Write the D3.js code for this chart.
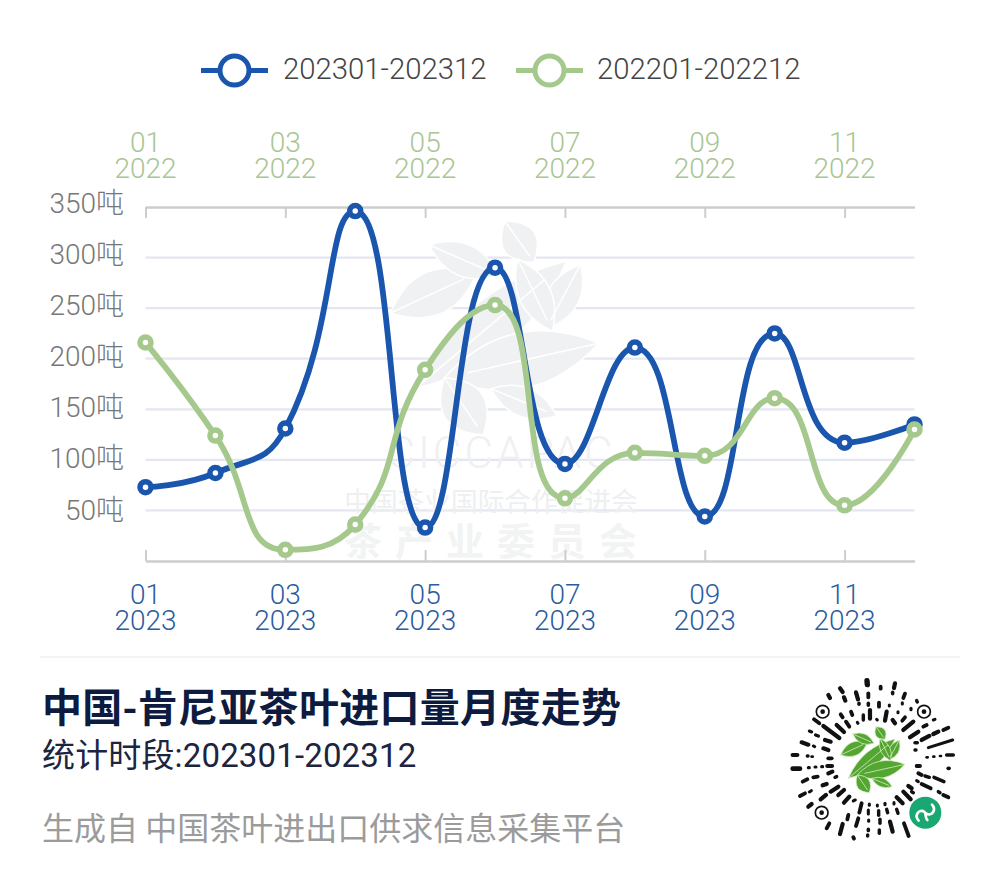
<!DOCTYPE html>
<html><head><meta charset="utf-8">
<script src="https://cdn.jsdelivr.net/npm/d3@7"></script>
<style>html,body{margin:0;padding:0;background:#fff}svg{display:block}</style>
</head><body><div id="c"></div>
<script>
const months2023 = ["01","02","03","04","05","06","07","08","09","10","11","12"];
const series2023 = [73,87,131,346,33,290,96,211,44,225,117,135];
const series2022 = [216,124,11,36,189,253,62,107,104,161,55,130];
const yTicks = [50,100,150,200,250,300,350];
const xTickMonths = ["01","03","05","07","09","11"];
const legendLabels = ["202301-202312","202201-202212"];
const titleText = "中国-肯尼亚茶叶进口量月度走势";
const subtitleText = "统计时段:202301-202312";
const footerText = "生成自 中国茶叶进出口供求信息采集平台";

const BLUE="#1a56ae", GREEN="#a5c88c";
const LATIN='Roboto,"Noto Sans CJK SC",sans-serif';
const CJK='"Noto Sans CJK SC",sans-serif';
const svg=d3.select("#c").append("svg").attr("width",1000).attr("height",882).attr("viewBox","0 0 1000 882");
svg.append("rect").attr("width",1000).attr("height",882).attr("fill","#fff");

const x=d3.scalePoint().domain(months2023).range([145.5,914.5]);
const y=d3.scaleLinear().domain([0,350]).range([561,207]);
const yLabel=d3.scaleLinear().domain([50,350]).range([519.5,212.8]);

// smooth curve with constrained control points (handles stay within the neighbouring points)
function smoothCurve(context){
  let pts=[];
  return {
    areaStart(){},areaEnd(){},
    lineStart(){pts=[];},
    point(a,b){pts.push([+a,+b]);},
    lineEnd(){
      const s=0.5,n=pts.length;
      const clamp=(v,a,b)=>Math.max(Math.min(a,b),Math.min(Math.max(a,b),v));
      context.moveTo(pts[0][0],pts[0][1]);
      let cp0=pts[0].slice();
      for(let i=1;i<n;i++){
        const [px,py]=pts[i-1],[cx,cy]=pts[i];
        let c1=[cx,cy],next=[cx,cy];
        if(i<n-1){
          const [nx,ny]=pts[i+1];
          const l0=Math.hypot(cx-px,cy-py),l1=Math.hypot(nx-cx,ny-cy);
          const r=l1/(l0+l1);
          let ncx=clamp(cx+(nx-px)*s*r,cx,nx),ncy=clamp(cy+(ny-py)*s*r,cy,ny);
          let c1x=clamp(cx-(ncx-cx)*l0/l1,px,cx),c1y=clamp(cy-(ncy-cy)*l0/l1,py,cy);
          ncx=cx+(cx-c1x)*l1/l0;ncy=cy+(cy-c1y)*l1/l0;
          c1=[c1x,c1y];next=[ncx,ncy];
        }
        context.bezierCurveTo(cp0[0],cp0[1],c1[0],c1[1],cx,cy);
        cp0=next;
      }
    }
  };
}

// grid
svg.append("g").selectAll("line").data(yTicks.filter(d=>d<350)).join("line")
 .attr("x1",x.range()[0]).attr("x2",x.range()[1]).attr("y1",d=>y(d)).attr("y2",d=>y(d))
 .attr("stroke","#e4e6f1").attr("stroke-width",2.2);

// logo leaves: base, tip, width
const leaves=[[235,355,375,237,34],[212,285,292,248,30],[318,200,345,238,24],[248,222,312,250,22],
 [388,240,356,300,22],[330,235,362,302,22],[405,313,262,345,38],[262,345,298,398,30],[305,355,366,380,20]];
function leafPath(d){
  const [a,b,c,e,w]=d;const mx=(a+c)/2,my=(b+e)/2,dx=c-a,dy=e-b,L=Math.hypot(dx,dy);
  const nx=-dy/L*w*1.35,ny=dx/L*w*1.35;
  return `M${a},${b}Q${mx+nx},${my+ny} ${c},${e}Q${mx-nx},${my-ny} ${a},${b}Z`;
}
function logo(g,fill,vein,sw){
  g.selectAll("path.l").data(leaves).join("path").attr("class","l").attr("d",leafPath).attr("fill",fill).attr("stroke",vein).attr("stroke-width",sw);
  g.selectAll("line").data(leaves).join("line").attr("x1",d=>d[0]).attr("y1",d=>d[1]).attr("x2",d=>d[0]+(d[2]-d[0])*.85).attr("y2",d=>d[1]+(d[3]-d[1])*.85).attr("stroke",vein).attr("stroke-width",sw);
}
// watermark
const wm=svg.append("g");
logo(wm.append("g").attr("transform","translate(493,326) scale(1.08) translate(-307,-297)"),"#f0f1f2","#fff",1.4);
wm.append("text").attr("x",501).attr("y",468).attr("text-anchor","middle").attr("font-family",LATIN).attr("font-weight",300).attr("font-size",44).attr("letter-spacing",3).attr("fill","#eff0f1").text("CICCAPAC");
wm.append("text").attr("x",491).attr("y",511).attr("text-anchor","middle").attr("font-family",CJK).attr("font-size",26.7).attr("fill","#eeeff0").text("中国茶业国际合作促进会");
wm.append("text").attr("x",497).attr("y",555).attr("text-anchor","middle").attr("font-family",CJK).attr("font-weight",700).attr("font-size",38).attr("letter-spacing",13).attr("fill","#f2f3f3").text("茶产业委员会");

// axes
const gt=svg.append("g").attr("transform","translate(0,207)").call(d3.axisTop(x).tickValues(xTickMonths).tickSize(0).tickFormat(()=>""));
const gb=svg.append("g").attr("transform","translate(0,561)").call(d3.axisBottom(x).tickValues(xTickMonths).tickSize(0).tickFormat(()=>""));
[gt,gb].forEach(g=>g.select(".domain").attr("stroke","#cdcdcd").attr("stroke-width",2.4));
gt.selectAll(".tick line").attr("y2",11).attr("stroke","#cdcdcd").attr("stroke-width",2);
gb.selectAll(".tick line").attr("y2",-11).attr("stroke","#cdcdcd").attr("stroke-width",2);

function tickLabels(yr,color,b1,lead){
  const g=svg.append("g").attr("font-family",LATIN).attr("font-weight",300).attr("font-size",28).attr("fill",color).attr("text-anchor","middle");
  const t=g.selectAll("text").data(xTickMonths).join("text").attr("y",b1);
  t.append("tspan").attr("x",d=>x(d)).text(d=>d);
  t.append("tspan").attr("x",d=>x(d)).attr("dy",lead).text(yr);
}
tickLabels("2022","#a9c594",152,26);
tickLabels("2023","#2a5c9f",604,26);

svg.append("g").attr("font-family",LATIN).attr("font-weight",300).attr("font-size",28).attr("fill","#777").attr("text-anchor","end")
 .selectAll("text").data(yTicks).join("text").attr("x",124).attr("y",d=>yLabel(d)).text(d=>d+"吨");

// series
const line=d3.line().x((d,i)=>x(months2023[i])).y(d=>y(d)).curve(smoothCurve);
[[series2023,BLUE],[series2022,GREEN]].forEach(([vals,col])=>{
  svg.append("path").attr("d",line(vals)).attr("fill","none").attr("stroke",col).attr("stroke-width",5.8);
  svg.append("g").selectAll("circle").data(vals).join("circle")
   .attr("cx",(d,i)=>x(months2023[i])).attr("cy",d=>y(d)).attr("r",5.5)
   .attr("fill","#fff").attr("stroke",col).attr("stroke-width",5.5);
});

// legend
[[201,BLUE,283],[516,GREEN,597]].forEach(([lx,col,tx],i)=>{
  svg.append("line").attr("x1",lx).attr("x2",lx+67).attr("y1",70.5).attr("y2",70.5).attr("stroke",col).attr("stroke-width",5);
  svg.append("circle").attr("cx",lx+33.5).attr("cy",70.5).attr("r",14.5).attr("fill","#fff").attr("stroke",col).attr("stroke-width",5);
  svg.append("text").attr("x",tx).attr("y",79).attr("font-family",LATIN).attr("font-weight",300).attr("font-size",29.3).attr("fill","#444").text(legendLabels[i]);
});

// footer block
svg.append("line").attr("x1",40).attr("x2",960).attr("y1",657).attr("y2",657).attr("stroke","#f1f1f1").attr("stroke-width",1.5);
svg.append("text").attr("x",42).attr("y",722).attr("font-family",CJK).attr("font-weight",700).attr("font-size",40).attr("letter-spacing",.3).attr("fill","#0d1b3e").text(titleText);
svg.append("text").attr("x",42).attr("y",767).attr("font-family",LATIN).attr("font-size",33).attr("letter-spacing",.15).attr("fill","#1c2440").text(subtitleText);
svg.append("text").attr("x",42).attr("y",840).attr("font-family",CJK).attr("font-size",32).attr("fill","#9b9b9b").text(footerText);

// mini-program code
const qr=svg.append("g").attr("transform","translate(770,660) scale(0.3333)");
const dashes=[[291,62,292,74,14],[332,80,332,86,10],[375,70,372,84,11],[210,85,218,96,11],[258,97,264,118,11],[295,100,295,112,10],[368,97,368,101,9],[405,101,400,114,10],
[175,105,180,114,11],[222,112,226,122,11],[267,130,267,133,9],[295,130,295,136,9],[327,128,327,140,10],[397,128,397,132,8],[440,122,442,126,9],
[358,135,358,138,8],[300,150,300,176,11],[350,155,345,182,11],[384,155,384,158,8],[423,145,423,149,8],[243,155,247,165,10],[212,163,218,172,10],
[132,178,148,190,10],[160,198,208,234,11],[200,195,222,216,11],[228,185,238,200,10],[262,187,264,190,8],[280,165,280,180,9],[320,178,322,180,8],[368,180,375,190,11],[405,172,397,182,10],
[400,210,430,185,11],[420,232,445,215,11],[455,240,478,228,11],[490,222,505,215,11],[520,210,535,203,10],[460,200,470,195,10],[490,180,495,178,8],
[475,263,548,240,8],[118,213,125,216,8],[137,225,145,228,9],[95,247,115,254,11],[165,240,182,245,11],[130,258,134,260,8],[160,265,175,270,11],
[68,285,82,285,11],[112,288,114,288,9],[125,290,128,290,7],[175,295,185,295,10],[435,248,442,248,9],[435,270,438,270,9],[470,292,473,292,7],[490,290,493,290,7],[510,288,513,288,7],[530,285,550,285,9],
[68,326,90,326,12],[115,323,118,323,8],[135,321,138,321,8],[155,320,158,320,8],[172,318,186,318,11],[440,318,450,318,10],[535,325,537,325,10],[445,340,455,345,10],[465,348,478,352,9],[492,352,522,365,9],
[98,365,112,358,10],[130,352,143,350,10],[175,340,187,335,11],[440,362,445,365,8],[455,372,482,385,10],[505,395,510,398,9],[520,405,535,412,10],[158,376,170,372,11],[195,352,200,350,9],
[90,408,105,400,10],[118,396,124,392,8],[182,395,205,380,11],[152,418,168,405,11],[415,378,425,385,11],[425,395,430,398,9],[400,395,422,418,11],[380,412,398,430,11],[205,405,222,390,11],[222,428,238,410,11],
[115,440,125,432,11],[250,423,256,420,8],[275,430,268,458,10],[298,432,298,436,8],[322,435,322,438,8],[345,430,345,434,8],[372,428,372,432,8],[295,450,295,462,8],[326,452,326,466,9],[350,448,353,458,9],[380,448,384,460,9],
[235,465,232,478,10],[265,475,258,498,10],[218,492,210,522,11],[296,480,296,484,8],[330,478,330,490,9],[360,485,368,515,11],[402,490,416,528,10],[178,490,170,505,10],[295,508,295,512,9],[328,510,328,520,9],[250,532,252,536,10],[293,525,293,528,9]];
qr.append("g").attr("stroke","#111").attr("stroke-linecap","round").selectAll("line").data(dashes).join("line")
 .attr("x1",d=>d[0]).attr("y1",d=>d[1]).attr("x2",d=>d[2]).attr("y2",d=>d[3]).attr("stroke-width",d=>d[4]*1.15);
[[158,155],[462,155],[155,458]].forEach(([a,b])=>{
  qr.append("circle").attr("cx",a).attr("cy",b).attr("r",19).attr("fill","none").attr("stroke","#111").attr("stroke-width",5);
  qr.append("circle").attr("cx",a).attr("cy",b).attr("r",7).attr("fill","#111");
});
qr.append("circle").attr("cx",307).attr("cy",297).attr("r",104).attr("fill","#fff");
logo(qr.append("g"),"#54a632","#d8ecc0",2.4);
qr.append("circle").attr("cx",466).attr("cy",458).attr("r",48).attr("fill","#19a871");
qr.append("path").attr("d","M446,482c-14,-14 0,-38 18,-26c4,4 2,20 8,24M486,434c14,14 0,38 -18,26").attr("fill","none").attr("stroke","#fff").attr("stroke-width",8).attr("stroke-linecap","round");
</script></body></html>
